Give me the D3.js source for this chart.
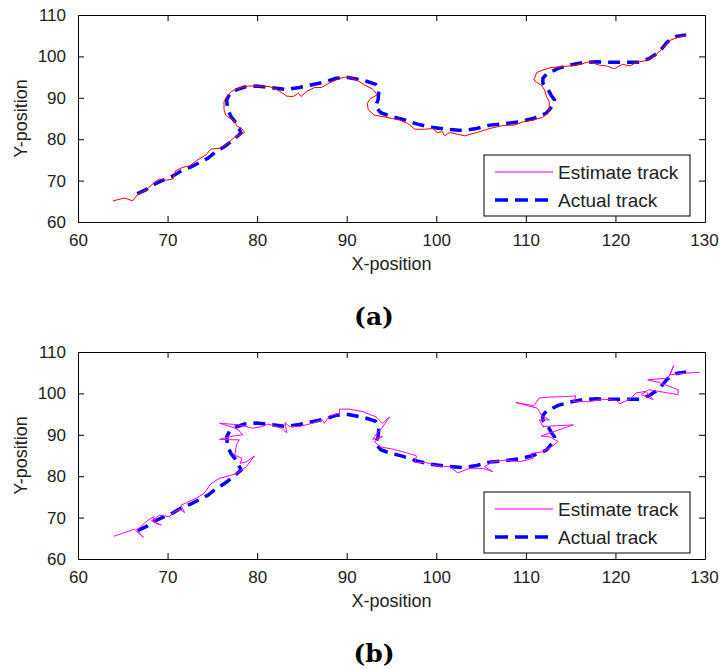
<!DOCTYPE html>
<html>
<head>
<meta charset="utf-8">
<script src="https://cdn.jsdelivr.net/npm/d3@7"></script>
<style>
  html, body { margin: 0; padding: 0; background: #fff; }
  svg text { font-family: "Liberation Sans", Arial, sans-serif; }
</style>
</head>
<body>
<svg id="chart" width="719" height="669"></svg>
<script>
// Axis ticks shared by both panels
const xTicks = [60, 70, 80, 90, 100, 110, 120, 130];
const yTicks = [60, 70, 80, 90, 100, 110];

// Ground-truth trajectory
const actualX = [66.6,67.6,68.6,69.5,70.5,71.5,72.5,73.5,74.5,75.4,76.4,77.2,78.2,77.7,77.1,76.7,76.6,76.9,77.5,78.6,79.9,81.0,82.1,83.3,84.7,86.0,87.7,88.8,90.0,91.2,92.2,93.2,93.6,93.5,93.2,93.8,94.8,96.3,97.8,99.3,101.1,103.0,104.5,106.0,107.8,109.3,110.8,112.3,112.9,113.2,112.8,112.5,111.9,111.9,112.3,113.6,114.9,116.4,117.9,119.3,121.2,122.7,123.8,124.9,125.8,126.8,127.9];
const actualY = [66.8,67.8,69.2,70.1,71.0,72.3,73.2,74.3,75.4,77.0,78.3,79.6,81.5,83.8,85.4,87.2,89.5,90.8,91.8,92.6,92.85,92.6,92.3,92.0,92.5,93.1,93.9,94.7,94.95,94.5,94.0,93.3,91.9,89.5,87.9,86.4,85.6,84.8,83.7,82.9,82.4,82.1,82.6,83.4,83.8,84.2,85.0,86.3,87.9,89.5,90.7,91.9,93.5,94.7,95.7,97.1,97.9,98.5,98.7,98.6,98.6,98.6,99.5,101.1,103.5,104.8,105.2];

// Estimated trajectory, panel (a)
const estimateAX = [63.9,65.2,66.1,66.6,67.6,68.6,69.1,69.9,70.6,70.9,71.7,72.5,73.2,74.3,74.8,75.8,76.6,77.5,78.6,78.3,77.7,77.5,76.9,76.5,76.3,76.3,76.6,77.1,77.9,79.0,80.3,81.4,82.3,83.3,84.0,84.6,84.9,85.5,86.4,87.2,88.1,89.2,90.1,91.1,92.0,92.9,93.4,92.7,92.3,92.4,93.1,94.4,95.9,96.8,97.6,98.7,99.6,100.1,100.7,100.9,101.5,102.2,103.2,104.5,106.0,107.4,108.7,109.7,110.8,111.9,112.6,112.6,112.6,112.3,112.1,111.7,111.3,110.9,111.2,111.9,112.8,114.1,115.6,117.1,118.2,119.0,119.9,120.8,121.6,122.3,123.4,124.2,125.1,126.0,127.0,127.9];
const estimateAY = [65.1,65.8,65.1,66.5,67.7,69.7,70.4,70.1,70.4,72.4,73.2,73.6,74.8,76.2,77.6,77.8,78.8,80.5,81.6,82.6,83.2,84.5,85.1,85.8,87.1,89.1,90.3,91.5,92.3,92.85,92.85,92.7,91.9,90.4,90.3,91.1,90.3,91.5,92.5,92.5,93.6,94.7,95.1,94.3,93.1,92.1,90.7,89.9,88.7,87.1,85.8,85.3,84.6,83.8,82.4,82.4,82.6,81.6,81.8,80.8,81.6,81.3,80.8,81.6,82.6,83.3,83.4,84.2,84.6,85.3,86.6,87.9,89.1,90.3,91.9,93.1,93.6,94.3,96.1,96.7,97.3,97.5,97.9,98.7,97.9,97.7,97.0,98.1,97.7,98.5,99.0,99.9,101.5,103.8,104.6,105.2];

// Estimated trajectory, panel (b)
const estimateBX = [64.0,66.3,67.3,66.6,67.6,68.4,68.7,69.3,68.2,69.1,70.2,70.6,71.4,71.9,71.5,72.1,73.2,74.1,74.8,75.8,76.9,77.7,78.8,79.7,78.8,78.1,78.3,77.5,77.7,78.0,77.3,75.8,77.3,78.4,77.9,77.3,75.8,78.0,79.5,80.6,81.2,82.1,82.7,83.3,83.1,83.6,84.7,86.2,87.3,87.5,88.1,89.2,89.2,90.3,91.8,93.3,94.0,94.8,93.9,93.1,92.9,94.0,93.1,93.7,95.2,96.6,97.8,97.6,98.9,100.0,101.5,102.4,103.7,105.2,106.3,105.4,106.3,107.8,109.3,110.8,110.6,111.9,113.0,113.6,112.6,111.7,115.3,111.9,111.5,112.6,111.7,111.3,108.9,110.9,111.5,112.6,114.1,115.6,115.3,117.1,118.6,120.1,120.5,121.6,122.3,123.4,124.2,122.9,123.7,127.0,127.0,124.9,123.6,125.9,126.5,126.1,127.8,129.4];
const estimateBY = [65.5,67.2,65.2,67.0,69.0,70.2,68.6,68.2,69.2,70.6,70.2,71.2,72.0,71.2,73.0,73.6,74.7,75.9,78.1,79.5,80.1,80.7,82.3,84.9,83.5,83.1,84.3,85.1,87.6,88.8,88.8,88.9,89.7,90.0,91.2,91.8,92.8,92.4,91.6,92.0,92.6,92.0,91.6,90.5,93.0,92.0,92.0,92.8,93.6,92.8,94.6,95.2,96.2,96.2,95.6,94.3,92.8,94.3,91.6,89.6,88.9,89.6,88.4,87.1,86.5,85.7,84.9,83.3,83.3,82.5,82.3,80.8,81.9,81.9,81.1,82.3,83.5,83.9,83.5,84.3,85.5,85.9,87.3,88.4,89.6,89.7,92.4,92.0,93.6,93.6,94.8,96.4,97.8,97.0,98.9,99.1,99.2,99.4,98.0,98.0,98.6,98.3,97.5,98.6,100.1,100.5,98.5,99.7,100.9,99.7,100.9,102.6,103.3,103.7,106.7,104.5,104.9,105.1];

const seriesNames = ["Estimate track", "Actual track"];
const panelLabels = ["(a)", "(b)"];

const svg = d3.select("#chart");
const left = 78, right = 705;

const panels = [
  { top: 15,  bottom: 222, ex: estimateAX, ey: estimateAY, color: "#ff0000", label: panelLabels[0] },
  { top: 352, bottom: 559, ex: estimateBX, ey: estimateBY, color: "#ff00ff", label: panelLabels[1] }
];

panels.forEach(p => {
  const x = d3.scaleLinear().domain([60, 130]).range([left, right]);
  const y = d3.scaleLinear().domain([60, 110]).range([p.bottom, p.top]);
  const g = svg.append("g");

  const line = d3.line().x(d => x(d[0])).y(d => y(d[1]));
  const actual = actualX.map((v, i) => [v, actualY[i]]);
  const est = p.ex.map((v, i) => [v, p.ey[i]]);

  g.append("path").datum(actual).attr("d", line)
    .attr("fill", "none").attr("stroke", "#0000ff").attr("stroke-width", 3.5)
    .attr("stroke-dasharray", "12,7");
  g.append("path").datum(est).attr("d", line)
    .attr("fill", "none").attr("stroke", p.color).attr("stroke-width", 1);

  // Boxed axes with inward ticks on all four sides
  const tl = 6;
  const axB = d3.axisBottom(x).tickValues(xTicks).tickSizeInner(-tl).tickSizeOuter(0).tickPadding(12);
  const axT = d3.axisTop(x).tickValues(xTicks).tickSizeInner(-tl).tickSizeOuter(0).tickFormat("");
  const axL = d3.axisLeft(y).tickValues(yTicks).tickSizeInner(-tl).tickSizeOuter(0).tickPadding(12);
  const axR = d3.axisRight(y).tickValues(yTicks).tickSizeInner(-tl).tickSizeOuter(0).tickFormat("");

  const styleAxis = sel => {
    sel.select(".domain").attr("stroke", "#000").attr("stroke-width", 1);
    sel.selectAll(".tick line").attr("stroke", "#000");
    sel.selectAll(".tick text").attr("fill", "#222").style("font-size", "17px")
      .style("font-family", "'Liberation Sans', Arial, sans-serif");
  };
  g.append("g").attr("transform", `translate(0,${p.bottom})`).call(axB).call(styleAxis);
  g.append("g").attr("transform", `translate(0,${p.top})`).call(axT).call(styleAxis);
  g.append("g").attr("transform", `translate(${left},0)`).call(axL).call(styleAxis);
  g.append("g").attr("transform", `translate(${right},0)`).call(axR).call(styleAxis);

  // Keep the last x tick label inside the page edge
  g.selectAll("g.tick text").filter(d => d === 130).attr("dx", "-1");

  // Axis titles
  g.append("text").attr("x", (left + right) / 2).attr("y", p.bottom + 48)
    .attr("text-anchor", "middle").attr("fill", "#222").style("font-size", "18px").text("X-position");
  g.append("text").attr("transform", `translate(27,${(p.top + p.bottom) / 2}) rotate(-90)`)
    .attr("text-anchor", "middle").attr("fill", "#222").style("font-size", "18px").text("Y-position");

  // Legend
  const lg = g.append("g").attr("transform", `translate(484,${p.bottom - 67})`);
  lg.append("rect").attr("width", 206).attr("height", 61)
    .attr("fill", "#fff").attr("stroke", "#000").attr("stroke-width", 1);
  lg.append("line").attr("x1", 11).attr("x2", 69).attr("y1", 17).attr("y2", 17)
    .attr("stroke", "#ff44ff").attr("stroke-width", 1.5);
  lg.append("line").attr("x1", 11).attr("x2", 69).attr("y1", 45).attr("y2", 45)
    .attr("stroke", "#0000ff").attr("stroke-width", 3.5).attr("stroke-dasharray", "13,7");
  lg.selectAll("text.lt").data(seriesNames).enter().append("text")
    .attr("x", 74).attr("y", (d, i) => 17 + i * 28 + 6.5)
    .attr("fill", "#222").style("font-size", "19px").text(d => d);

  // Panel caption
  g.append("text").attr("x", 374).attr("y", p.bottom + 103)
    .attr("text-anchor", "middle").attr("fill", "#000")
    .style("font-family", "'DejaVu Serif', serif").style("font-weight", "bold")
    .style("font-size", "25px").text(p.label);
});
</script>
</body>
</html>
